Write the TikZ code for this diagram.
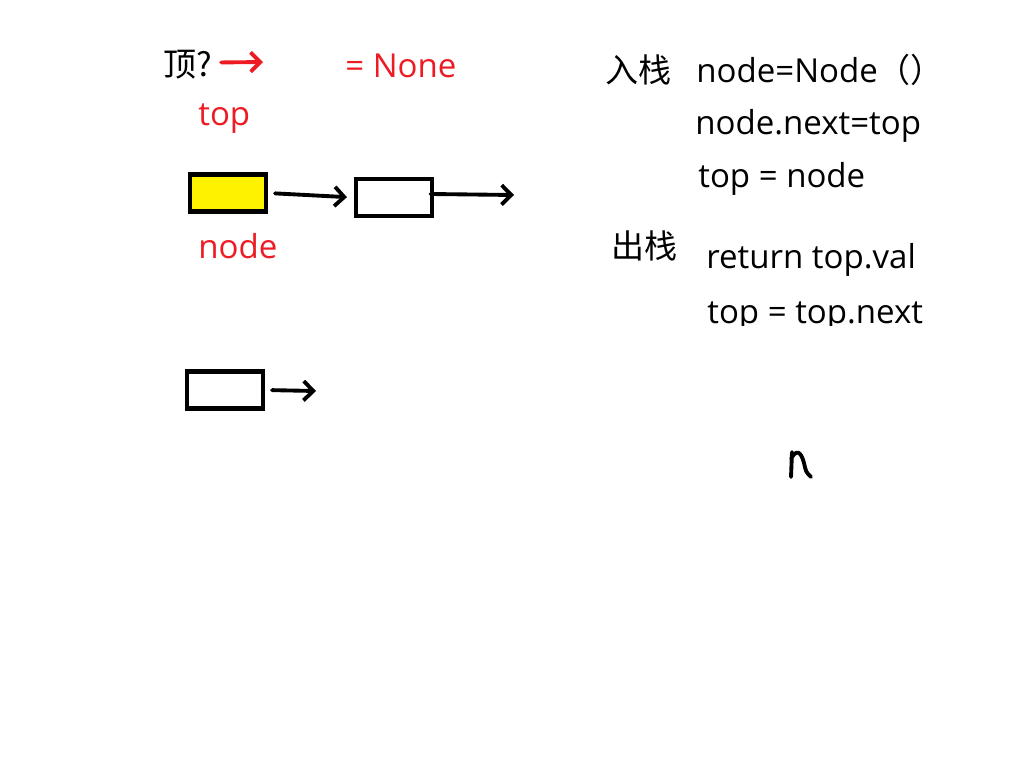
\documentclass[tikz,border=0pt]{standalone}
\usepackage{fontspec}
\setmainfont{Open Sans}
\newfontfamily\cjk{Noto Sans CJK SC}
\usetikzlibrary{arrows.meta, positioning}
\definecolor{paintred}{RGB}{237,28,36}
\definecolor{paintyellow}{RGB}{255,242,0}

\begin{document}
\begin{tikzpicture}[x=0.02cm, y=-0.02cm,
  box/.style={draw, line width=2.3pt, inner sep=0, minimum width=1.52cm, minimum height=0.74cm},
  link/.style={line width=2.2pt, line cap=round, -{Straight Barb[length=5.5pt,width=11pt]}},
  redlink/.style={link, draw=paintred},
  txt/.style={anchor=base west, inner sep=0, font=\fontsize{18.8}{22}\selectfont},
  redtxt/.style={txt, text=paintred}]
\useasboundingbox[fill=white] (0,0) rectangle (1024,768);

% Stack top pointer
\node[txt] (ding) at (163,76) {\cjk 顶?};
\coordinate (redend) at (263,62);
\draw[redlink] ([xshift=5pt,yshift=1pt]ding.east) -- (redend);
\node[redtxt] (none) at (345,77) {= None};
\node[redtxt] (toplbl) at (198,125) {top};

% Linked nodes
\node[box, fill=paintyellow] (newnode) at (228,193) {};
\node[box] (oldnode) at (394,197.5) {};
\coordinate (oldnext) at (514,195);
\draw[link, shorten <=4pt, shorten >=4pt] (newnode.east) -- (oldnode.west);
\draw[link] ([xshift=-2pt,yshift=2pt]oldnode.east) -- (oldnext);
\node[redtxt] (nodelbl) at (198,258) {node};

\node[box] (lone) at (225,390) {};
\coordinate (lonenext) at (316,391);
\draw[link, shorten <=4pt] (lone.east) -- (lonenext);

% Push / pop
\node[txt] (push) at (605,82) {\cjk 入栈};
\node[txt] (push1) at (696,82) {node=Node{\cjk （）}};
\node[txt] (push2) at (695,134) {node.next=top};
\node[txt] (push3) at (698,187) {top = node};
\node[txt] (pop) at (611,258) {\cjk 出栈};
\node[txt] (pop1) at (706,268) {return top.val};
\begin{scope}
  \clip (600,280) rectangle (1000,325);
  \node[txt] (pop2) at (707,323) {top = top.next};
\end{scope}

% Scribble
\draw[line width=2.2pt, line cap=round, line join=round] (791,477) -- (792,452)
  (791,459) .. controls (796,449) and (801,451) .. (804,463) .. controls (806,472) .. (811,477);
\end{tikzpicture}
\end{document}
